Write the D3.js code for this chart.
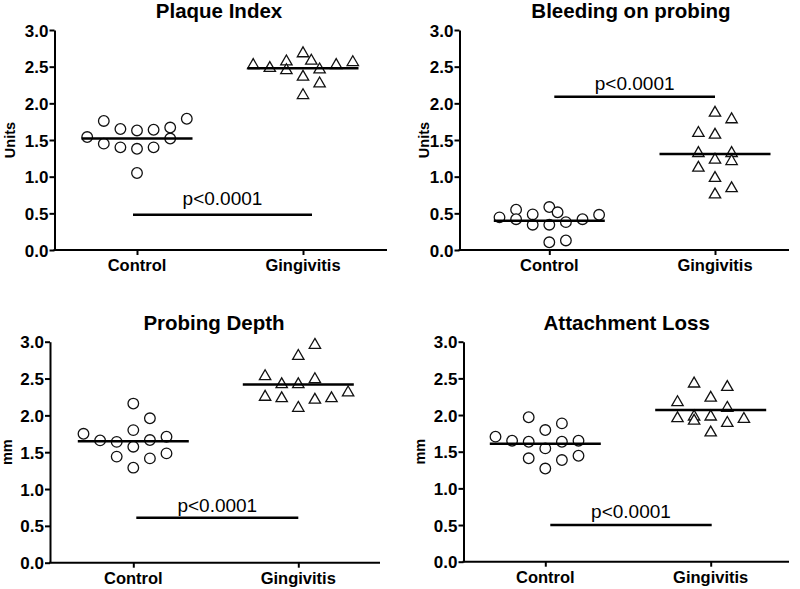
<!DOCTYPE html>
<html>
<head>
<meta charset="utf-8">
<script src="https://cdn.jsdelivr.net/npm/d3@7"></script>
<style>
  body { margin: 0; background: #fff; }
  text { font-family: "Liberation Sans", Arial, sans-serif; fill: #000; }
</style>
</head>
<body>
<script>
const chart_width = 800;
const chart_height = 589;

const categories = ["Control", "Gingivitis"];
const yTickValues = [0, 0.5, 1.0, 1.5, 2.0, 2.5, 3.0];
const titles = ["Plaque Index", "Bleeding on probing", "Probing Depth", "Attachment Loss"];
const unitLabels = ["Units", "Units", "mm", "mm"];
const pLabels = ["p<0.0001", "p<0.0001", "p<0.0001", "p<0.0001"];

// values per group, and the horizontal column each point sits in (scatter spread)
const plaqueControl = [1.54, 1.76, 1.45, 1.65, 1.40, 1.63, 1.38, 1.05, 1.64, 1.40, 1.67, 1.52, 1.79];
const plaqueControlCol = [-3, -2, -2, -1, -1, 0, 0, 0, 1, 1, 2, 2, 3];
const plaqueGing = [2.52, 2.48, 2.57, 2.45, 2.68, 2.36, 2.11, 2.58, 2.46, 2.27, 2.52, 2.56];
const plaqueGingCol = [-3, -2, -1, -1, 0, 0, 0, 0.5, 1, 1, 2, 3];

const bleedControl = [0.445, 0.55, 0.42, 0.486, 0.345, 0.586, 0.345, 0.105, 0.514, 0.38, 0.13, 0.42, 0.48];
const bleedControlCol = [-3, -2, -2, -1, -1, 0, 0, 0, 0.5, 1, 1, 2, 3];
const bleedGing = [1.595, 1.32, 1.12, 1.87, 1.57, 1.23, 0.98, 0.755, 1.78, 1.32, 1.21, 0.84];
const bleedGingCol = [-1, -1, -1, 0, 0, 0, 0, 0, 1, 1, 1, 1];

const depthControl = [1.75, 1.66, 1.64, 1.44, 2.16, 1.80, 1.575, 1.29, 1.96, 1.665, 1.416, 1.71, 1.484];
const depthControlCol = [-3, -2, -1, -1, 0, 0, 0, 0, 1, 1, 1, 2, 2];
const depthGing = [2.53, 2.25, 2.42, 2.23, 2.805, 2.42, 2.10, 2.955, 2.49, 2.21, 2.23, 2.31];
const depthGingCol = [-2, -2, -1, -1, 0, 0, 0, 1, 1, 1, 2, 3];

const lossControl = [1.705, 1.65, 1.97, 1.636, 1.41, 1.795, 1.545, 1.27, 1.886, 1.636, 1.386, 1.65, 1.445];
const lossControlCol = [-3, -2, -1, -1, -1, 0, 0, 0, 1, 1, 1, 2, 2];
const lossGing = [2.174, 1.954, 2.427, 1.977, 1.92, 2.234, 1.977, 1.76, 2.38, 2.096, 1.89, 1.945];
const lossGingCol = [-2, -2, -1, -1, -1, 0, 0, 0, 1, 1, 1, 2];

const medianControl = [1.52, 0.40, 1.65, 1.61];
const medianGing = [2.48, 1.31, 2.42, 2.07];
const sigLevel = [0.48, 2.09, 0.61, 0.50];

const panelData = [
  {ctrl: plaqueControl, ctrlCol: plaqueControlCol, ging: plaqueGing, gingCol: plaqueGingCol},
  {ctrl: bleedControl, ctrlCol: bleedControlCol, ging: bleedGing, gingCol: bleedGingCol},
  {ctrl: depthControl, ctrlCol: depthControlCol, ging: depthGing, gingCol: depthGingCol},
  {ctrl: lossControl, ctrlCol: lossControlCol, ging: lossGing, gingCol: lossGingCol}
];

// layout of each panel (pixels)
const layout = [
  {left: 54.5, right: 387, top: 30, bottom: 250, cx: [137, 303], titleX: 219, ylabX: 9.5, sig: [-4, 9], pGap: 10},
  {left: 459.5, right: 789, top: 30, bottom: 250, cx: [549.3, 715], titleX: 631, ylabX: 423.5, sig: [5, 0], pGap: 7},
  {left: 50, right: 380, top: 341.7, bottom: 562.7, cx: [133.3, 298.3], titleX: 214, ylabX: 7, sig: [3, 0], pGap: 6},
  {left: 463.5, right: 789, top: 341.7, bottom: 561.7, cx: [545.3, 710.7], titleX: 626.7, ylabX: 419.5, sig: [5, 1], pGap: 7}
];
const colStep = 16.6;
const medianHalf = 55.5;

const svg = d3.select('body').append('svg')
  .attr('width', chart_width).attr('height', chart_height);

const triangle = d3.symbol().type(d3.symbolTriangle).size(56);

panelData.forEach((pd, i) => {
  const L = layout[i];
  const g = svg.append('g');

  const y = d3.scaleLinear().domain([0, 3]).range([L.bottom, L.top]);
  const x = d3.scalePoint().domain(categories).range(L.cx);

  // y axis
  const yAxis = g.append('g')
    .attr('transform', `translate(${L.left},0)`)
    .call(d3.axisLeft(y).tickValues(yTickValues).tickFormat(d3.format('.1f'))
      .tickSize(5).tickSizeOuter(0).tickPadding(1));
  yAxis.select('.domain').attr('stroke-width', 2);
  yAxis.selectAll('.tick line').attr('stroke-width', 2);
  yAxis.selectAll('.tick text')
    .style('font-size', '17px').style('font-weight', 'bold')
    .attr('dy', '0.36em');

  // x axis
  const xAxis = g.append('g')
    .attr('transform', `translate(0,${L.bottom})`)
    .call(d3.axisBottom(x).tickSize(5).tickSizeOuter(0).tickPadding(0));
  xAxis.select('.domain').attr('d', `M${L.left - 1},0H${L.right}`).attr('stroke-width', 2);
  xAxis.selectAll('.tick line').attr('stroke-width', 2);
  xAxis.selectAll('.tick text').remove();
  g.selectAll('.cat-label')
    .data(categories).enter().append('text')
    .attr('class', 'cat-label')
    .attr('x', d => x(d)).attr('y', L.bottom + 21)
    .attr('text-anchor', 'middle')
    .style('font-size', '16.5px').style('font-weight', 'bold')
    .text(d => d);

  // title and y label
  g.append('text')
    .attr('x', L.titleX).attr('y', L.top - 12)
    .attr('text-anchor', 'middle')
    .style('font-size', '20.5px').style('font-weight', 'bold')
    .text(titles[i]);
  g.append('text')
    .attr('transform', `translate(${L.ylabX},${(L.top + L.bottom) / 2}) rotate(-90)`)
    .attr('text-anchor', 'middle').attr('dy', '0.35em')
    .style('font-size', '14.5px').style('font-weight', 'bold')
    .text(unitLabels[i]);

  // control circles
  g.selectAll('.ctrl')
    .data(pd.ctrl.map((v, j) => ({v, c: pd.ctrlCol[j]})))
    .enter().append('circle')
    .attr('class', 'ctrl')
    .attr('cx', d => x('Control') + d.c * colStep)
    .attr('cy', d => y(d.v))
    .attr('r', 5.3)
    .attr('fill', '#fff').attr('stroke', '#111').attr('stroke-width', 1.3);

  // gingivitis triangles
  g.selectAll('.ging')
    .data(pd.ging.map((v, j) => ({v, c: pd.gingCol[j]})))
    .enter().append('path')
    .attr('class', 'ging')
    .attr('d', triangle)
    .attr('transform', d => `translate(${x('Gingivitis') + d.c * colStep},${y(d.v)})`)
    .attr('fill', '#fff').attr('stroke', '#111').attr('stroke-width', 1.3);

  // median lines
  [medianControl[i], medianGing[i]].forEach((m, k) => {
    g.append('line')
      .attr('x1', x(categories[k]) - medianHalf).attr('x2', x(categories[k]) + medianHalf)
      .attr('y1', y(m)).attr('y2', y(m))
      .attr('stroke', '#000').attr('stroke-width', 2.5);
  });

  // significance bar
  const sx0 = x('Control') + L.sig[0];
  const sx1 = x('Gingivitis') + L.sig[1];
  g.append('line')
    .attr('x1', sx0).attr('x2', sx1)
    .attr('y1', y(sigLevel[i])).attr('y2', y(sigLevel[i]))
    .attr('stroke', '#000').attr('stroke-width', 2.5);
  g.append('text')
    .attr('x', (sx0 + sx1) / 2).attr('y', y(sigLevel[i]) - L.pGap)
    .attr('text-anchor', 'middle')
    .style('font-size', '19px')
    .text(pLabels[i]);
});
</script>
</body>
</html>
